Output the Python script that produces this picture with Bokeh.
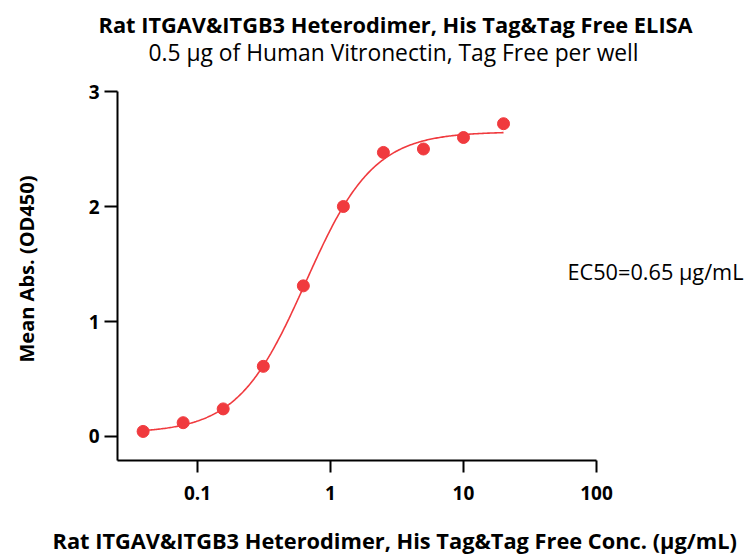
import numpy as np
from bokeh.plotting import figure
from bokeh.models import Label, FixedTicker, Range1d, Title
from bokeh.embed import file_html
from bokeh.resources import INLINE

title = "Rat ITGAV&ITGB3 Heterodimer, His Tag&Tag Free ELISA"
subtitle = "0.5 μg of Human Vitronectin, Tag Free per well"
x_label = "Rat ITGAV&ITGB3 Heterodimer, His Tag&Tag Free Conc. (μg/mL)"
y_label = "Mean Abs. (OD450)"
ec50_text = "EC50=0.65 μg/mL"

conc = [0.039, 0.078, 0.156, 0.3125, 0.625, 1.25, 2.5, 5, 10, 20]
od450 = [0.044, 0.12, 0.24, 0.61, 1.31, 2.0, 2.47, 2.50, 2.60, 2.72]

# 4PL fit parameters
fit_bottom = 0.03
fit_top = 2.65
fit_ec50 = 0.65
fit_hill = 1.7

x_ticks = [0.1, 1, 10, 100]
y_ticks = [0, 1, 2, 3]
x_axis_span = (0.02503, 100)
y_axis_span = (-0.2087, 3)

RED = "#F03A3E"
FONT = "Open Sans"

W, H = 752, 558
p = figure(width=W, height=H, x_axis_type="log", output_backend="svg",
           toolbar_location=None, x_range=Range1d(0.02503, 1490),
           y_range=Range1d(-0.2087, 3.4435),
           min_border_left=117, min_border_right=0,
           min_border_top=40, min_border_bottom=98)
p.outline_line_color = None
p.grid.visible = False
p.background_fill_color = "white"

xs = np.logspace(np.log10(conc[0]), np.log10(conc[-1]), 300)
ys = fit_bottom + (fit_top - fit_bottom) / (1 + (fit_ec50 / xs) ** fit_hill)
p.line(xs, ys, line_color=RED, line_width=1.6)
p.scatter(conc, od450, size=12, fill_color=RED, line_color=RED)

for ax in (p.xaxis[0], p.yaxis[0]):
    ax.axis_line_width = 2
    ax.axis_line_color = "black"
    ax.major_tick_line_width = 2
    ax.major_tick_line_color = "black"
    ax.minor_tick_line_color = None
    ax.major_tick_in = 0
    ax.major_label_text_font = FONT
    ax.major_label_text_font_style = "bold"
    ax.major_label_text_font_size = "19px"
    ax.major_label_text_color = "black"
p.xaxis.ticker = FixedTicker(ticks=x_ticks)
p.yaxis.ticker = FixedTicker(ticks=y_ticks)
p.xaxis.bounds = x_axis_span
p.yaxis.bounds = y_axis_span
p.xaxis.major_tick_out = 12
p.yaxis.major_tick_out = 13
p.xaxis.major_label_standoff = 13
p.yaxis.major_label_standoff = 5
p.xaxis.major_label_overrides = {0.1: "0.1", 1: "1", 10: "10", 100: "100"}

def spacer(gap):
    return Title(text=" ", text_font_size="1px", standoff=gap)

# chart title above the frame
p.add_layout(Title(text=title, align="left", offset=-19, text_font=FONT,
                   text_font_size="21.8px", text_font_style="bold",
                   text_color="black", standoff=4), "above")
# x label below the axis
p.add_layout(spacer(18), "below")
p.add_layout(Title(text=x_label, align="left", offset=-65, text_font=FONT,
                   text_font_size="21.8px", text_font_style="bold",
                   text_color="black", standoff=0), "below")
# y label left of the axis
p.add_layout(spacer(43), "left")
p.add_layout(Title(text=y_label, align="left", offset=98, text_font=FONT,
                   text_font_size="20px", text_font_style="bold",
                   text_color="black", standoff=0), "left")

# subtitle and EC50 note inside the frame (screen units from frame bottom-left)
p.add_layout(Label(x=31, y=408, x_units="screen", y_units="screen",
                   text=subtitle, text_font=FONT, text_font_size="22.8px",
                   text_align="left", text_baseline="middle", text_color="black"))
p.add_layout(Label(x=450, y=189, x_units="screen", y_units="screen",
                   text=ec50_text, text_font=FONT, text_font_size="21.7px",
                   text_align="left", text_baseline="middle", text_color="black"))

open("out.html", "w").write(file_html(p, INLINE))
